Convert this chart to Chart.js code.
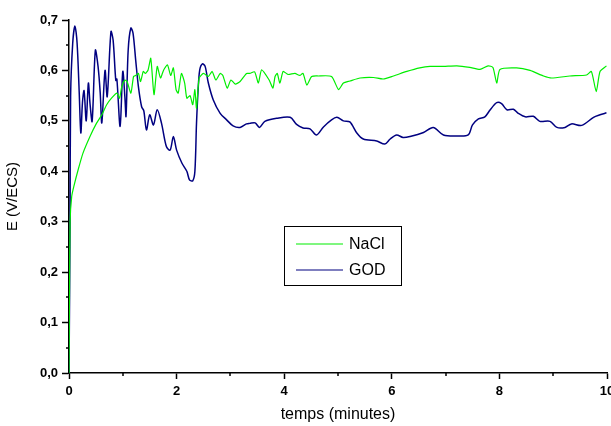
<!DOCTYPE html>
<html>
<head>
<meta charset="utf-8">
<script src="https://cdn.jsdelivr.net/npm/chart.js@4"></script>
<style>
  html, body { margin: 0; padding: 0; background: #fff; overflow: hidden; }
  canvas { display: block; }
</style>
</head>
<body>
<canvas id="chart" width="611" height="426"></canvas>
<script>
// NaCl curve (time in minutes, potential in V/ECS)
const naclTime = [0, 0.01, 0.02, 0.05, 0.09, 0.17, 0.26, 0.39, 0.51, 0.61, 0.70, 0.79, 0.89, 0.94, 0.98,
  1.04, 1.08, 1.15, 1.20, 1.24, 1.29, 1.33, 1.38, 1.42, 1.47, 1.52, 1.58, 1.64, 1.70, 1.76, 1.83, 1.89,
  1.94, 1.99, 2.03, 2.09, 2.15, 2.19, 2.25, 2.30, 2.34, 2.37, 2.42, 2.50, 2.59, 2.66, 2.73, 2.81, 2.86,
  2.94, 3.01, 3.09, 3.18, 3.30, 3.36, 3.45, 3.52, 3.58, 3.72, 3.79, 3.83, 3.87, 3.92, 3.98, 4.07, 4.20,
  4.29, 4.35, 4.42, 4.51, 4.63, 4.88, 5.01, 5.10, 5.22, 5.41, 5.66, 5.84, 6.03, 6.28, 6.52, 6.71, 6.96,
  7.21, 7.45, 7.64, 7.79, 7.88, 7.95, 8.01, 8.32, 8.57, 8.82, 8.97, 9.31, 9.62, 9.71, 9.80, 9.87, 9.99];
const naclE = [0, 0.17, 0.30, 0.35, 0.37, 0.403, 0.436, 0.469, 0.495, 0.512, 0.532, 0.545, 0.555, 0.545, 0.568,
  0.581, 0.578, 0.555, 0.588, 0.59, 0.594, 0.578, 0.598, 0.594, 0.601, 0.624, 0.552, 0.608, 0.585, 0.601, 0.611, 0.59,
  0.605, 0.562, 0.555, 0.594, 0.575, 0.545, 0.55, 0.532, 0.562, 0.525, 0.585, 0.594, 0.588, 0.598, 0.581, 0.594, 0.590,
  0.565, 0.581, 0.573, 0.578, 0.594, 0.594, 0.597, 0.575, 0.601, 0.581, 0.565, 0.588, 0.594, 0.575, 0.598, 0.592, 0.594,
  0.590, 0.594, 0.571, 0.588, 0.589, 0.588, 0.562, 0.575, 0.579, 0.585, 0.586, 0.583, 0.589, 0.598, 0.605, 0.608, 0.608,
  0.609, 0.606, 0.602, 0.609, 0.606, 0.575, 0.602, 0.605, 0.600, 0.589, 0.585, 0.589, 0.591, 0.598, 0.558, 0.598, 0.609];

// GOD curve
const godTime = [0, 0.02, 0.03, 0.069, 0.11, 0.15, 0.19, 0.22, 0.25, 0.28, 0.32, 0.36, 0.39, 0.43, 0.49,
  0.54, 0.58, 0.61, 0.67, 0.71, 0.78, 0.82, 0.87, 0.89, 0.95, 1.00, 1.04, 1.06, 1.10, 1.15, 1.19, 1.24,
  1.29, 1.35, 1.39, 1.44, 1.50, 1.57, 1.64, 1.72, 1.81, 1.88, 1.94, 2.00, 2.10, 2.19, 2.24, 2.30, 2.34,
  2.37, 2.40, 2.43, 2.48, 2.53, 2.59, 2.68, 2.81, 2.93, 3.05, 3.18, 3.30, 3.36, 3.46, 3.54, 3.64, 3.86,
  4.11, 4.23, 4.35, 4.48, 4.60, 4.73, 4.88, 4.98, 5.10, 5.22, 5.35, 5.47, 5.72, 5.87, 5.97, 6.09, 6.21,
  6.34, 6.59, 6.77, 6.96, 7.21, 7.42, 7.50, 7.61, 7.73, 7.83, 7.95, 8.04, 8.14, 8.26, 8.35, 8.48, 8.63,
  8.75, 8.94, 9.07, 9.22, 9.34, 9.53, 9.75, 9.87, 9.99];
const godE = [0, 0.30, 0.55, 0.654, 0.688, 0.655, 0.556, 0.476, 0.536, 0.56, 0.50, 0.575, 0.535, 0.499, 0.64,
  0.608, 0.556, 0.496, 0.60, 0.548, 0.677, 0.66, 0.58, 0.583, 0.489, 0.598, 0.545, 0.509, 0.64, 0.684, 0.674, 0.62,
  0.568, 0.528, 0.52, 0.482, 0.512, 0.492, 0.522, 0.495, 0.449, 0.442, 0.469, 0.442, 0.416, 0.40, 0.383, 0.381, 0.40,
  0.495, 0.562, 0.601, 0.613, 0.608, 0.575, 0.542, 0.515, 0.502, 0.490, 0.487, 0.494, 0.495, 0.496, 0.487, 0.499, 0.505,
  0.507, 0.493, 0.486, 0.484, 0.472, 0.488, 0.502, 0.507, 0.500, 0.498, 0.476, 0.464, 0.460, 0.454, 0.464, 0.472, 0.467,
  0.469, 0.477, 0.487, 0.472, 0.470, 0.472, 0.492, 0.504, 0.508, 0.522, 0.536, 0.534, 0.522, 0.523, 0.515, 0.508, 0.509,
  0.499, 0.499, 0.487, 0.487, 0.494, 0.491, 0.507, 0.512, 0.516];

const seriesLabels = ['NaCl', 'GOD'];
const seriesColors = ['#00ee00', '#000080'];

const toPoints = (xs, ys) => xs.map((x, i) => ({ x: x, y: ys[i] }));

// short minor ticks between the labelled ones
const minorTicks = {
    id: 'minorTicks',
    afterDraw(chart) {
        const ctx = chart.ctx;
        const xs = chart.scales.x, ys = chart.scales.y;
        const area = chart.chartArea;
        ctx.save();
        ctx.strokeStyle = '#000';
        ctx.lineWidth = 1.5;
        ctx.beginPath();
        [1, 3, 5, 7, 9].forEach(v => {
            const px = Math.round(xs.getPixelForValue(v));
            ctx.moveTo(px, area.bottom);
            ctx.lineTo(px, area.bottom + 3);
        });
        for (let v = 0.05; v < 0.7; v += 0.1) {
            const py = Math.round(ys.getPixelForValue(v));
            ctx.moveTo(area.left - 3, py);
            ctx.lineTo(area.left, py);
        }
        ctx.stroke();
        ctx.restore();
    }
};

// boxed legend inside the plot
const boxLegend = {
    id: 'boxLegend',
    afterDraw(chart) {
        const ctx = chart.ctx;
        ctx.save();
        ctx.strokeStyle = '#000';
        ctx.lineWidth = 1;
        ctx.strokeRect(284.5, 226.5, 117, 59);
        ctx.font = '16px "Liberation Sans", Arial, sans-serif';
        ctx.textBaseline = 'middle';
        ctx.fillStyle = '#000';
        chart.data.datasets.forEach((ds, i) => {
            const y = 244 + i * 26;
            ctx.strokeStyle = ds.borderColor;
            ctx.lineWidth = 1.2;
            ctx.beginPath();
            ctx.moveTo(296, y);
            ctx.lineTo(343, y);
            ctx.stroke();
            ctx.fillText(ds.label, 349, y + 1);
        });
        ctx.restore();
    }
};

const tickFont = { family: '"Liberation Sans", Arial, sans-serif', size: 13, weight: 'bold' };

new Chart(document.getElementById('chart').getContext('2d'), {
    type: 'line',
    data: {
        datasets: [
            {
                label: seriesLabels[0],
                data: toPoints(naclTime, naclE),
                borderColor: seriesColors[0],
                borderWidth: 1.2,
                pointRadius: 0,
                tension: 0.2,
                fill: false
            },
            {
                label: seriesLabels[1],
                data: toPoints(godTime, godE),
                borderColor: seriesColors[1],
                borderWidth: 1.5,
                pointRadius: 0,
                tension: 0.3,
                fill: false
            }
        ]
    },
    options: {
        responsive: false,
        animation: false,
        layout: { padding: { top: 20, right: 4, bottom: 0, left: 0 } },
        plugins: {
            legend: { display: false },
            tooltip: { enabled: false }
        },
        scales: {
            x: {
                type: 'linear',
                min: 0,
                max: 10,
                border: { display: true, color: '#000', width: 1.5 },
                grid: { drawOnChartArea: false, drawTicks: true, tickLength: 6, tickColor: '#000', tickWidth: 1.5 },
                ticks: { stepSize: 2, color: '#000', font: tickFont, padding: 5, maxRotation: 0 },
                title: {
                    display: true,
                    text: 'temps (minutes)',
                    color: '#000',
                    font: { family: '"Liberation Sans", Arial, sans-serif', size: 16 },
                    padding: { top: 0, bottom: 2 }
                },
                afterFit(scale) {
                    scale.height = 53;
                    scale.paddingLeft = 0;
                    scale.paddingRight = 0;
                }
            },
            y: {
                min: 0,
                max: 0.7,
                border: { display: true, color: '#000', width: 1.5 },
                grid: { drawOnChartArea: false, drawTicks: true, tickLength: 7, tickColor: '#000', tickWidth: 1.5 },
                ticks: {
                    stepSize: 0.1,
                    color: '#000',
                    font: tickFont,
                    padding: 4,
                    callback: v => v.toFixed(1).replace('.', ',')
                },
                title: {
                    display: true,
                    text: 'E (V/ECS)',
                    color: '#000',
                    font: { family: '"Liberation Sans", Arial, sans-serif', size: 15 },
                    padding: { top: 4, bottom: 0 }
                },
                afterFit(scale) {
                    scale.width = 69;
                    scale.paddingTop = 0;
                    scale.paddingBottom = 0;
                }
            }
        }
    },
    plugins: [minorTicks, boxLegend]
});
</script>
</body>
</html>
